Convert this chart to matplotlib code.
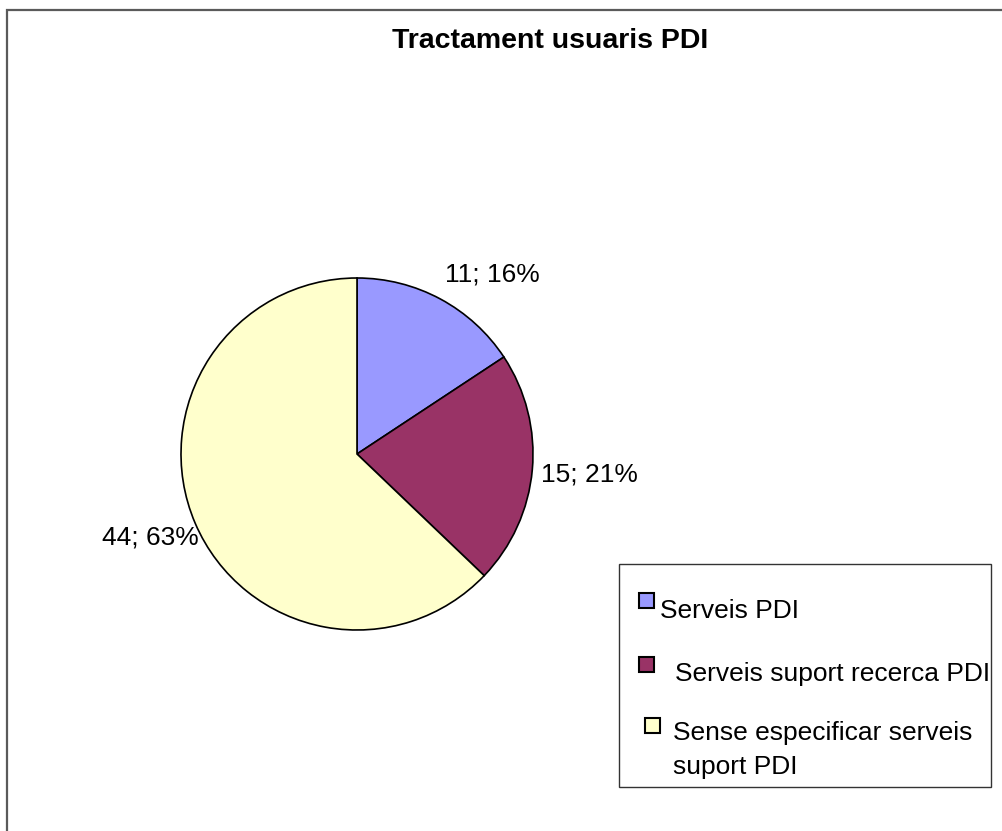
import matplotlib
matplotlib.use("Agg")
import matplotlib.pyplot as plt
from matplotlib.patches import Rectangle
import numpy as np

plt.rcParams['font.family'] = ['Liberation Sans', 'DejaVu Sans']

# Data
categories = ["Serveis PDI", "Serveis suport recerca PDI",
              "Sense especificar serveis\nsuport PDI"]
values = [11, 15, 44]
percent_labels = ["16%", "21%", "63%"]
colors = ["#9999FF", "#993366", "#FFFFCC"]
title = "Tractament usuaris PDI"

W, H = 1003, 831
fig = plt.figure(figsize=(W / 100, H / 100), dpi=100)
fig.patch.set_facecolor("white")


def fx(px):
    return px / W


def fy(py):
    return 1 - py / H


# Outer chart frame (runs off the right and bottom edges)
fig.patches.append(Rectangle((fx(7), fy(1000)), fx(1200), fy(10) - fy(1000),
                             transform=fig.transFigure, fill=False,
                             edgecolor="#5a5a5a", linewidth=1.6, zorder=0))

# Title
fig.text(fx(550), fy(41), title, ha="center", va="center",
         fontsize=20.5, fontweight="bold", color="black")

# Pie
ax = fig.add_axes([fx(181), fy(630), fx(352), fy(278) - fy(630)])
ax.axis("off")

wedges, _ = ax.pie(values, colors=colors, startangle=90, counterclock=False,
                   radius=1,
                   wedgeprops=dict(edgecolor="black", linewidth=1.2))
ax.set_xlim(-1, 1)
ax.set_ylim(-1, 1)
ax.set_aspect("equal")

# Data labels "value; percent" placed outside each wedge
label_dist = [1.30, 1.32, 1.29]
label_shift = [(0.153, -0.125), (0.007, 0.0), (0.01, 0.03)]
for w, v, p, d, (sx, sy) in zip(wedges, values, percent_labels, label_dist, label_shift):
    ang = np.deg2rad((w.theta1 + w.theta2) / 2)
    x = d * np.cos(ang) + sx
    y = d * np.sin(ang) + sy
    ax.text(x, y, f"{v}; {p}", ha="center", va="center", fontsize=19,
            color="black", clip_on=False)

# Legend box
fig.patches.append(Rectangle((fx(619), fy(787)), fx(991) - fx(619), fy(564) - fy(787),
                             transform=fig.transFigure, facecolor="white",
                             edgecolor="#333333", linewidth=1.0, zorder=1))

square_xy = [(639, 593), (639, 657), (645, 718)]
text_xy = [(660, 611), (675, 674), (673, 750)]
sq = 15
for (sxp, syp), (txp, typ), c, cat in zip(square_xy, text_xy, colors, categories):
    fig.patches.append(Rectangle((fx(sxp), fy(syp + sq)), fx(sq), fy(syp) - fy(syp + sq),
                                 transform=fig.transFigure, facecolor=c,
                                 edgecolor="black", linewidth=1.5, zorder=2))
    fig.text(fx(txp), fy(typ), cat, ha="left", va="center", fontsize=19,
             color="black", linespacing=1.5, zorder=3)

fig.savefig("out.png", dpi=100)
